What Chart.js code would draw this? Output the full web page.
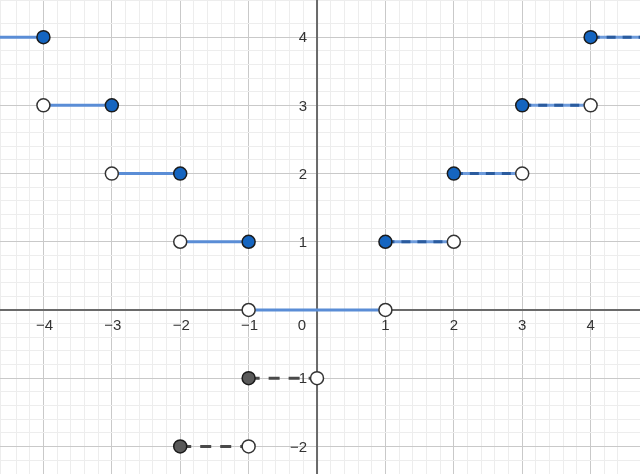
<!DOCTYPE html>
<html>
<head>
<meta charset="utf-8">
<script src="https://cdn.jsdelivr.net/npm/chart.js@4/dist/chart.umd.min.js"></script>
<style>
html,body{margin:0;padding:0;background:#fff;}
#wrap{width:640px;height:474px;position:relative;}
</style>
</head>
<body>
<div id="wrap"><canvas id="c"></canvas></div>
<script>
// ---- data ----
const xRange = [-4.635, 4.722];
const yRange = [-2.405, 4.545];
const xTickValues = [-4, -3, -2, -1, 1, 2, 3, 4];
const xTickLabels = ['\u22124', '\u22123', '\u22122', '\u22121', '1', '2', '3', '4'];
const yTickValues = [-2, -1, 1, 2, 3, 4];
const yTickLabels = ['\u22122', '\u22121', '1', '2', '3', '4'];
const originLabel = '0';

// solid blue steps (x < 1)
const blueSolidStart = [-5, -4, -3, -2, -1];
const blueSolidEnd   = [-4, -3, -2, -1, 1];
const blueSolidY     = [4, 3, 2, 1, 0];
// dashed blue steps (x >= 1)
const blueDashStart = [1, 2, 3, 4];
const blueDashEnd   = [2, 3, 4, 5];
const blueDashY     = [1, 2, 3, 4];
// dashed gray steps (negative)
const grayDashStart = [-2, -1];
const grayDashEnd   = [-1, 0];
const grayDashY     = [-2, -1];

// endpoints
const filledBlueX = [-4, -3, -2, -1, 1, 2, 3, 4];
const filledBlueY = [4, 3, 2, 1, 1, 2, 3, 4];
const filledGrayX = [-1, -2];
const filledGrayY = [-1, -2];
const openX = [-4, -3, -2, -1, 1, 2, 3, 4, 0, -1];
const openY = [3, 2, 1, 0, 0, 1, 2, 3, -1, -2];

// ---- build datasets ----
function segs(starts, ends, ys, style) {
  return starts.map((s, i) => Object.assign({
    data: [{x: s, y: ys[i]}, {x: ends[i], y: ys[i]}],
    showLine: true, pointRadius: 0, pointHoverRadius: 0, order: 2
  }, style));
}
function pts(xs, ys, style) {
  return Object.assign({
    data: xs.map((x, i) => ({x: x, y: ys[i]})),
    showLine: false, order: 0, pointHoverRadius: 7
  }, style);
}

const datasets = [].concat(
  segs(blueSolidStart, blueSolidEnd, blueSolidY, {borderColor: '#5a8dd6', borderWidth: 3}),
  segs(blueDashStart, blueDashEnd, blueDashY, {borderColor: '#6d9bdc', borderWidth: 3}),
  segs(blueDashStart, blueDashEnd, blueDashY, {borderColor: '#2a5b9e', borderWidth: 3, borderDash: [9, 7], order: 1}),
  segs(grayDashStart, grayDashEnd, grayDashY, {borderColor: '#4a4a4a', borderWidth: 3, borderDash: [11, 9]}),
  [
    pts(filledBlueX, filledBlueY, {pointRadius: 6.5, pointBackgroundColor: '#1565c0', pointBorderColor: '#1b1b1b', pointBorderWidth: 1.5}),
    pts(filledGrayX, filledGrayY, {pointRadius: 6.5, pointBackgroundColor: '#5a5a5a', pointBorderColor: '#1b1b1b', pointBorderWidth: 1.5}),
    pts(openX, openY, {pointRadius: 6.5, pointBackgroundColor: '#ffffff', pointBorderColor: '#333333', pointBorderWidth: 1.5})
  ]
);

function isInt(v) { return Math.abs(v - Math.round(v)) < 1e-6; }
function gridColor(ctx) {
  const v = ctx.tick ? ctx.tick.value : 0;
  return isInt(v) ? '#c9c9c9' : '#ededed';
}

const axesPlugin = {
  id: 'axesLabels',
  beforeDatasetsDraw(chart) {
    const ctx = chart.ctx, xs = chart.scales.x, ys = chart.scales.y;
    const a = chart.chartArea;
    const x0 = xs.getPixelForValue(0), y0 = ys.getPixelForValue(0);
    ctx.save();
    ctx.strokeStyle = '#6a6a6a';
    ctx.lineWidth = 2;
    ctx.beginPath();
    ctx.moveTo(a.left, y0); ctx.lineTo(a.right, y0);
    ctx.moveTo(x0, a.top); ctx.lineTo(x0, a.bottom);
    ctx.stroke();
    ctx.fillStyle = '#333333';
    ctx.font = '15px "Liberation Sans", Arial, sans-serif';
    ctx.textAlign = 'center';
    ctx.textBaseline = 'middle';
    xTickValues.forEach((v, i) => {
      const lbl = xTickLabels[i];
      const off = lbl.charAt(0) === '\u2212' ? 1 : 0;
      ctx.fillText(lbl, xs.getPixelForValue(v) + off, y0 + 16);
    });
    ctx.textAlign = 'right';
    yTickValues.forEach((v, i) => {
      ctx.fillText(yTickLabels[i], x0 - 10, ys.getPixelForValue(v) + 1);
    });
    ctx.textAlign = 'center';
    ctx.fillText(originLabel, x0 - 15, y0 + 16);
    ctx.restore();
  }
};

new Chart(document.getElementById('c'), {
  type: 'scatter',
  data: {datasets: datasets},
  options: {
    responsive: true,
    maintainAspectRatio: false,
    animation: false,
    layout: {padding: 0, autoPadding: false},
    plugins: {legend: {display: false}, tooltip: {enabled: false}},
    scales: {
      x: {
        type: 'linear', min: xRange[0], max: xRange[1],
        ticks: {display: false, stepSize: 0.2},
        grid: {color: gridColor, lineWidth: 1, drawTicks: false},
        border: {display: false}
      },
      y: {
        type: 'linear', min: yRange[0], max: yRange[1],
        ticks: {display: false, stepSize: 0.2},
        grid: {color: gridColor, lineWidth: 1, drawTicks: false},
        border: {display: false}
      }
    }
  },
  plugins: [axesPlugin]
});
</script>
</body>
</html>
